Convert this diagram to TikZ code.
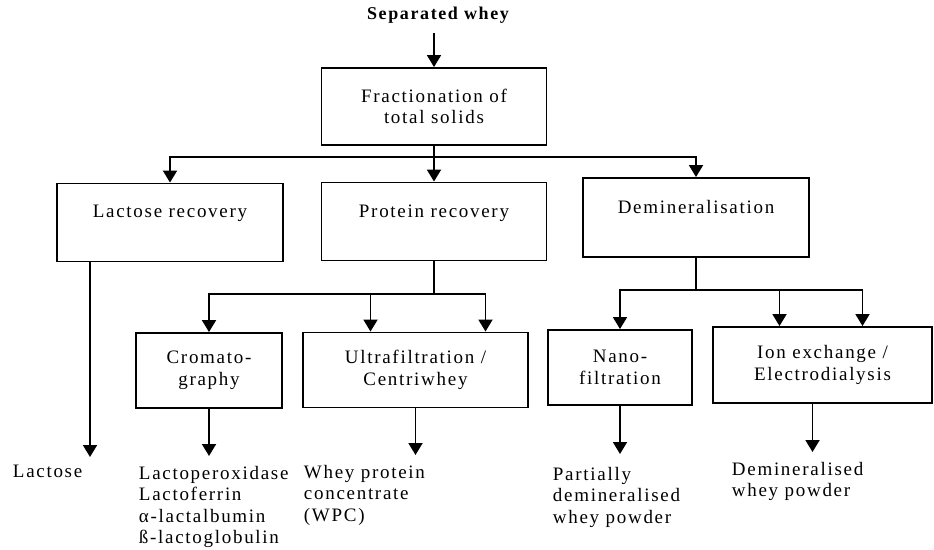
\documentclass[tikz,border=0pt]{standalone}
\usepackage{fontspec}
\setmainfont{Liberation Serif}[LetterSpace=9]
\usetikzlibrary{arrows.meta}

\begin{document}
\begin{tikzpicture}[x=1pt,y=-1pt,
  line width=1.9pt,
  every node/.style={font=\fontsize{19}{21.5}\selectfont},
  stage/.style={draw,align=center,minimum width=226pt,minimum height=78pt,inner sep=0pt},
  unit/.style={draw,align=center,minimum height=75pt,inner sep=0pt},
  product/.style={anchor=north west,align=left,inner sep=0pt},
  arr/.style={-{Triangle[width=14pt,length=12pt]}}]
  \useasboundingbox (0,0) rectangle (934,549);

  % feed and first split
  \node (whey) at (438,15) {\fontsize{18}{21}\selectfont\bfseries Separated whey};
  \node (frac) [stage,minimum width=225pt,minimum height=77pt] at (434,106.5) {Fractionation of\\total solids};
  \node (lacrec) [stage] at (170,222.5) {Lactose recovery\\ ~};
  \node (prot) [stage,minimum width=225pt] at (434,221.5) {Protein recovery\\ ~};
  \node (demin) [stage,minimum height=79pt] at (696,217.5) {Demineralisation\\ ~};

  % process units
  \node (crom) [unit,minimum width=146pt] at (209,370.5) {Cromato-\\graphy};
  \node (ultra) [unit,minimum width=225pt] at (415.5,370) {Ultrafiltration /\\Centriwhey};
  \node (nano) [unit,minimum width=144pt] at (620,367.5) {Nano-\\filtration};
  \node (ion) [unit,minimum width=219pt,minimum height=76pt] at (822.5,365) {Ion exchange /\\Electrodialysis};

  % products
  \node (lactose) [product] at (12,464) {Lactose};
  \node (cromout) [product] at (138,465) {Lactoperoxidase\\Lactoferrin\\α-lactalbumin\\ß-lactoglobulin};
  \node (wpc) [product] at (303,464) {Whey protein\\concentrate\\(WPC)};
  \node (pdwp) [product] at (552,466) {Partially\\demineralised\\whey powder};
  \node (dwp) [product] at (731,461) {Demineralised\\whey powder};

  \coordinate (split) at (434,157);
  \coordinate (psplit) at (434,294);
  \coordinate (dsplit) at (696,290);
  \coordinate (lacend) at (90,457);

  \draw[arr,shorten <=6pt] (whey.south -| frac) -- (frac);
  \draw[arr] (frac) -- (prot);
  \draw[arr] (split) -| (lacrec);
  \draw[arr] (split) -| (demin);
  \draw[arr] (lacrec.south -| lacend) -- (lacend);

  \draw (prot) -- (psplit);
  \draw[arr] (psplit) -| (crom);
  \draw[arr] (psplit) -| ([xshift=-45pt]ultra.north);
  \draw[arr] (psplit) -| ([xshift=70pt]ultra.north);

  \draw (demin) -- (dsplit);
  \draw[arr] (dsplit) -| (nano);
  \draw[arr] (dsplit) -| ([xshift=-43pt]ion.north);
  \draw[arr] (dsplit) -| ([xshift=40pt]ion.north);

  \draw[arr,shorten >=9pt] (crom) -- (crom |- cromout.north);
  \draw[arr,shorten >=9pt] (ultra) -- (ultra |- wpc.north);
  \draw[arr,shorten >=12pt] (nano) -- (nano |- pdwp.north);
  \draw[arr,shorten >=9pt] ([xshift=-10pt]ion.south) -- ([xshift=-10pt]ion.south |- dwp.north);
\end{tikzpicture}
\end{document}
